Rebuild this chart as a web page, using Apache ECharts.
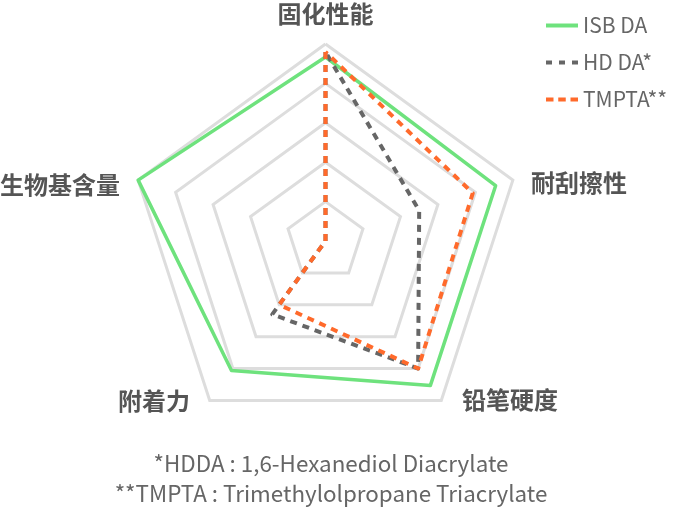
<!DOCTYPE html>
<html><head><meta charset="utf-8">
<script src="https://cdn.jsdelivr.net/npm/echarts@6/dist/echarts.min.js"></script>
<style>html,body{margin:0;padding:0;background:#fff}#c{width:690px;height:518px}</style>
</head><body><div id="c"></div>
<script>
// indicators listed counter-clockwise from top (ECharts order)
const indicators = ['固化性能', '生物基含量', '附着力', '铅笔硬度', '耐刮擦性'];
const maxValue = 5;
const seriesNames = ['ISB DA', 'HD DA*', 'TMPTA**'];
const isbDA = [4.67, 5.0, 4.06, 4.53, 4.54];
const hdDA = [4.8, 0, 2.3, 4.0, 2.5];
const tmpta = [4.8, 0, 2.0, 4.0, 3.93];
const footnotes = ['*HDDA : 1,6-Hexanediol Diacrylate', '**TMPTA : Trimethylolpropane Triacrylate'];

const colors = ['#6ee27d', '#666666', '#ff6a2b'];
const labelPad = {
  '固化性能': [0, 0, 3, 0],
  '生物基含量': [18, 4, 0, 0],
  '附着力': [0, 11, 23, 0],
  '铅笔硬度': [0, 0, 26, 12],
  '耐刮擦性': [14, 0, 0, 4]
};
const rich = {};
indicators.forEach((n, i) => {
  rich['n' + i] = {padding: labelPad[n], fontSize: 24, fontWeight: 'bold', color: '#555',
    fontFamily: 'Noto Sans CJK SC'};
});

const chart = echarts.init(document.getElementById('c'));
chart.setOption({
  animation: false,
  textStyle: {fontFamily: 'Noto Sans CJK SC'},
  title: {
    text: footnotes.join('\n'),
    left: 326,
    top: 443,
    textAlign: 'center',
    textStyle: {fontSize: 22.4, fontWeight: 'normal', color: '#666', lineHeight: 30,
      fontFamily: 'Noto Sans CJK SC'}
  },
  legend: {
    orient: 'vertical',
    left: 541,
    top: 10,
    itemWidth: 32,
    itemHeight: 4,
    itemGap: 16,
    textStyle: {fontSize: 21, color: '#666', lineHeight: 21, fontFamily: 'Noto Sans CJK SC'},
    data: [
      {name: seriesNames[0], icon: 'path://M0,0h32v4h-32z'},
      {name: seriesNames[1], icon: 'path://M0,0h6v4h-6zM13,0h6v4h-6zM26,0h6v4h-6z'},
      {name: seriesNames[2], icon: 'path://M0,0h7.5v4h-7.5zM12.25,0h7.5v4h-7.5zM24.5,0h7.5v4h-7.5z'}
    ]
  },
  radar: {
    center: [325.5, 241],
    radius: 197,
    startAngle: 90,
    splitNumber: 5,
    shape: 'polygon',
    axisNameGap: 15,
    indicator: indicators.map(n => ({name: n, max: maxValue, min: 0})),
    axisName: {
      formatter: (name) => '{n' + indicators.indexOf(name) + '|' + name + '}',
      rich: rich
    },
    splitLine: {lineStyle: {color: '#dddddd', width: 3}},
    splitArea: {show: false},
    axisLine: {show: false},
    axisTick: {show: false},
    axisLabel: {show: false}
  },
  series: [{
    type: 'radar',
    symbol: 'none',
    data: [
      {name: seriesNames[0], value: isbDA, itemStyle: {color: colors[0]},
        lineStyle: {color: colors[0], width: 3.5, type: 'solid'}},
      {name: seriesNames[1], value: hdDA, itemStyle: {color: colors[1]},
        lineStyle: {color: colors[1], width: 4, type: [7, 6], cap: 'butt'}},
      {name: seriesNames[2], value: tmpta, itemStyle: {color: colors[2]},
        lineStyle: {color: colors[2], width: 4, type: [7, 6], cap: 'butt'}}
    ]
  }]
});
</script></body></html>
